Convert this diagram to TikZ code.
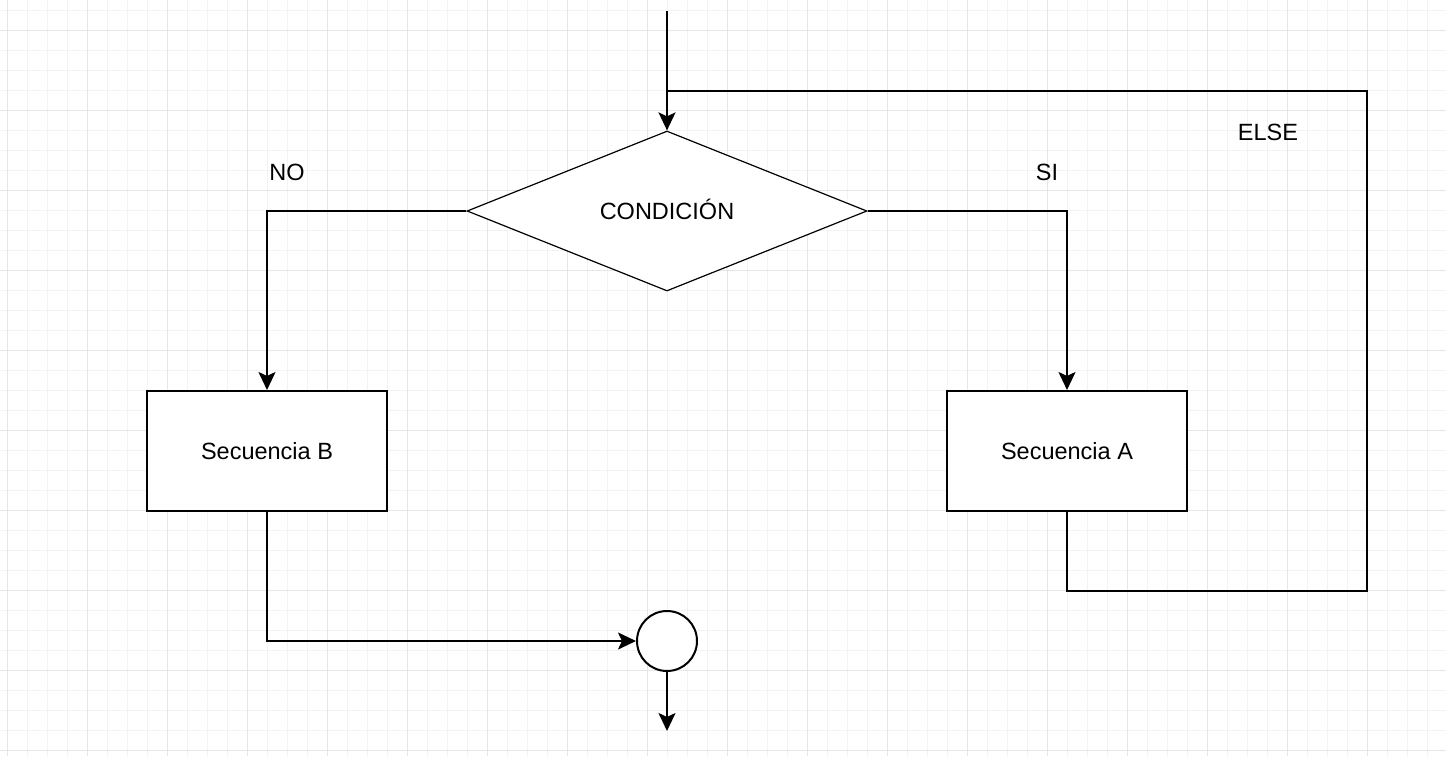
\documentclass[tikz,border=0pt]{standalone}
\usepackage{fontspec}
\setmainfont{Liberation Sans}
\usetikzlibrary{shapes.geometric,arrows.meta}
\definecolor{gridminor}{HTML}{F3F3F3}
\definecolor{gridmajor}{HTML}{E6E6E6}
\tikzset{
  conn/.style={line width=2pt, -{Stealth[length=18pt,width=17pt,inset=4pt]}},
  plainconn/.style={line width=2pt},
  lbl/.style={font=\fontsize{23.5}{27}\selectfont, inner sep=0pt, text height=17pt, text depth=0pt},
  decision/.style={diamond, draw, line width=1.2pt, fill=white, minimum width=400pt, minimum height=160pt, inner sep=0pt, lbl},
  stepbox/.style={rectangle, draw, line width=2pt, fill=white, minimum width=240pt, minimum height=120pt, inner sep=0pt, lbl},
  joint/.style={circle, draw, line width=2pt, fill=white, minimum size=60pt, inner sep=0pt}
}
\begin{document}
\begin{tikzpicture}[x=1pt,y=-1pt]
\useasboundingbox (0,0) rectangle (1446,756);
\fill[white] (0,0) rectangle (1446,756);
% grid
\foreach \gx in {7,27,...,1447} {\draw[gridminor, line width=1pt] (\gx,0) -- (\gx,756);}
\foreach \gy in {10,30,...,750} {\draw[gridminor, line width=1pt] (0,\gy) -- (1446,\gy);}
\foreach \gx in {7,87,...,1447} {\draw[gridmajor, line width=1pt] (\gx,0) -- (\gx,756);}
\foreach \gy in {30,110,...,750} {\draw[gridmajor, line width=1pt] (0,\gy) -- (1446,\gy);}
% nodes
\node[decision] (cond) at (667,211) {CONDICIÓN};
\node[stepbox] (B) at (267,451) {Secuencia B};
\node[stepbox] (A) at (1067,451) {Secuencia A};
\node[joint] (end) at (667,641) {};
\node[lbl] (no) at (287,171.5) {NO};
\node[lbl] (si) at (1047,171.5) {SI};
\node[lbl] (else) at (1268,132) {ELSE};
% coordinates
\coordinate (start) at (667,11);
\coordinate (join) at (667,91);
\coordinate (loopBR) at (1367,591);
\coordinate (exit) at (667,731);
% connectors
\draw[conn] (start) -- (cond.north);
\draw[conn] (cond.west) -| (B.north);
\draw[conn] (cond.east) -| (A.north);
\draw[plainconn] (A.south) |- (loopBR) |- (join);
\draw[conn] (B.south) |- (end.west);
\draw[conn] (end.south) -- (exit);
\end{tikzpicture}
\end{document}
